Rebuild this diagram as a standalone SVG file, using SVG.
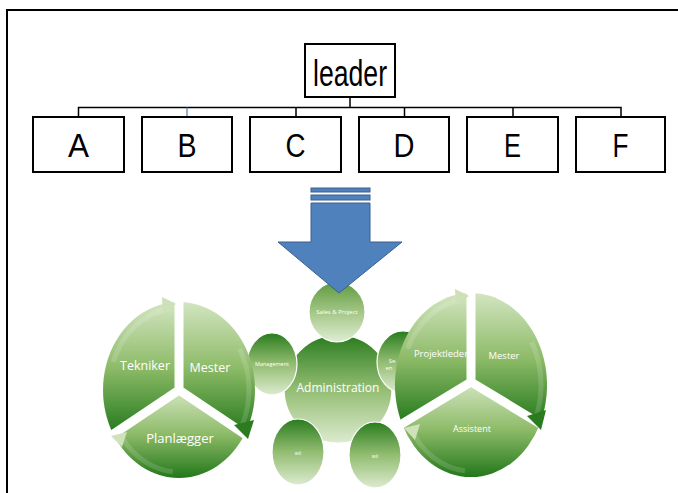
<svg xmlns="http://www.w3.org/2000/svg" width="678" height="493" viewBox="0 0 678 493">
  <defs>
    <linearGradient id="segGrad" x1="0" y1="0" x2="0" y2="1">
      <stop offset="0" stop-color="#d3e5c1"/>
      <stop offset="0.5" stop-color="#8dbb68"/>
      <stop offset="1" stop-color="#23781a"/>
    </linearGradient>
    <linearGradient id="ballGrad" x1="0" y1="0" x2="0" y2="1">
      <stop offset="0" stop-color="#2a7c1e"/>
      <stop offset="0.5" stop-color="#93bd72"/>
      <stop offset="1" stop-color="#dcebcf"/>
    </linearGradient>
    <linearGradient id="ballGradSoft" x1="0" y1="0" x2="0" y2="1">
      <stop offset="0" stop-color="#5e9a3e"/>
      <stop offset="0.5" stop-color="#a3c786"/>
      <stop offset="1" stop-color="#e0edd4"/>
    </linearGradient>
    <style>
      .frame { fill: none; stroke: #000; stroke-width: 2; }
      .box { fill: #fff; stroke: #000; stroke-width: 2; }
      .wire { fill: none; stroke: #000; stroke-width: 1.5; }
      .lbl { font-family: "Liberation Sans", Arial, sans-serif; fill: #000; text-anchor: middle; }
      .seg { fill: url(#segGrad); }
      .gap { stroke: #fff; stroke-width: 9; fill: none; }
      .band { fill: none; stroke: #fff; stroke-opacity: 0.14; stroke-width: 5; }
      .ball { fill: url(#ballGrad); stroke: #fff; stroke-width: 1.2; }
      .ballSoft { fill: url(#ballGradSoft); stroke: #fff; stroke-width: 1.2; }
      .wt { font-family: "Open Sans", "Liberation Sans", sans-serif; fill: #fff; text-anchor: middle; }
      .arrow { fill: #4f81bd; stroke: #3a6190; stroke-width: 1; }
    </style>
  </defs>

  <rect width="678" height="493" fill="#fff"/>

  <!-- page frame: top and left edges -->
  <path class="frame" d="M7,493 V10 H678"/>

  <!-- org chart connectors -->
  <g id="connectors">
    <path class="wire" d="M350,97 V107.5"/>
    <path class="wire" d="M78.5,117 V107.5 H621 V117"/>
    <path class="wire" d="M296,107.5 V117 M404.5,107.5 V117 M513,107.5 V117"/>
    <path fill="none" stroke="#4a7ab0" stroke-width="1.2" d="M187,107.5 V117"/>
  </g>

  <!-- org chart nodes -->
  <g id="leader">
    <rect class="box" x="305" y="44" width="90" height="53"/>
    <text class="lbl" x="350" y="86" font-size="37" textLength="74" lengthAdjust="spacingAndGlyphs">leader</text>
  </g>
  <g id="A"><rect class="box" x="33" y="117" width="91" height="55"/><text class="lbl" x="78.5" y="157" font-size="34" textLength="21" lengthAdjust="spacingAndGlyphs">A</text></g>
  <g id="B"><rect class="box" x="142" y="117" width="90" height="55"/><text class="lbl" x="187" y="157" font-size="34" textLength="19" lengthAdjust="spacingAndGlyphs">B</text></g>
  <g id="C"><rect class="box" x="250" y="117" width="91" height="55"/><text class="lbl" x="295.5" y="157" font-size="34" textLength="20" lengthAdjust="spacingAndGlyphs">C</text></g>
  <g id="D"><rect class="box" x="359" y="117" width="90" height="55"/><text class="lbl" x="404" y="157" font-size="34" textLength="21" lengthAdjust="spacingAndGlyphs">D</text></g>
  <g id="E"><rect class="box" x="467" y="117" width="91" height="55"/><text class="lbl" x="512.5" y="157" font-size="34" textLength="17" lengthAdjust="spacingAndGlyphs">E</text></g>
  <g id="F"><rect class="box" x="576" y="117" width="89" height="55"/><text class="lbl" x="620.5" y="157" font-size="34" textLength="16" lengthAdjust="spacingAndGlyphs">F</text></g>

  <!-- central cluster of departments -->
  <g id="administration">
    <circle class="ball" cx="338" cy="389" r="54"/>
    <text class="wt" x="338" y="392" font-size="12">Administration</text>
  </g>
  <g id="sales-project">
    <ellipse class="ballSoft" cx="337" cy="312" rx="28" ry="30"/>
    <text class="wt" x="337" y="314" font-size="6">Sales &amp; Project</text>
  </g>
  <g id="management">
    <ellipse class="ball" cx="272" cy="364" rx="25" ry="31"/>
    <text class="wt" x="272" y="366" font-size="5.5">Management</text>
  </g>
  <g id="service">
    <ellipse class="ball" cx="403" cy="362" rx="26" ry="31"/>
    <text class="wt" x="392" y="363" font-size="6" text-anchor="start">Se</text>
    <text class="wt" x="389" y="370" font-size="6" text-anchor="start">en</text>
  </g>
  <g id="wii-left">
    <ellipse class="ball" cx="298" cy="452" rx="26" ry="33"/>
    <text class="wt" x="298" y="455" font-size="5">wii</text>
  </g>
  <g id="wii-right">
    <ellipse class="ball" cx="375" cy="455" rx="26" ry="33"/>
    <text class="wt" x="375" y="458" font-size="5">wii</text>
  </g>

  <!-- left cycle: Tekniker / Mester / Planlægger -->
  <g id="cycle-left">
    <path class="seg" d="M179,390 L113.2,434 A76,88 0 0 1 179,302 Z"/>
    <path class="seg" d="M179,390 L179,302 A76,88 0 0 1 244.8,434 Z"/>
    <path class="seg" d="M179,390 L244.8,434 A76,88 0 0 1 113.2,434 Z"/>
    <path class="band" d="M113.2,362 A70,82 0 0 1 169.3,308.8"/>
    <path class="band" d="M239.6,349 A70,82 0 0 1 242.4,424.7"/>
    <path class="band" d="M172.9,471.7 A70,82 0 0 1 121.7,437"/>
    <path class="gap" d="M179,390 V290 M179,390 L252,439 M179,390 L106,439"/>
    <polygon points="162,297 176,304 163,313" fill="#cde0b8"/>
    <polygon points="234,425 254,420 248,439" fill="#2a7c1f"/>
    <polygon points="111,436 127,432 122,447" fill="#cfe2bb"/>
    <text class="wt" x="145" y="370" font-size="12.5">Tekniker</text>
    <text class="wt" x="210" y="372" font-size="12.5">Mester</text>
    <text class="wt" x="180" y="443" font-size="13">Planlægger</text>
  </g>

  <!-- right cycle: Projektleder / Mester / Assistent -->
  <g id="cycle-right">
    <path class="seg" d="M471,382 L402.1,423.9 A76,92 0 0 1 471,293 Z"/>
    <path class="seg" d="M471,382 L471,293 A76,92 0 0 1 539.9,423.9 Z"/>
    <path class="seg" d="M471,382 L539.9,423.9 A76,92 0 0 1 402.1,423.9 Z"/>
    <path class="band" d="M407.6,348.6 A70,86 0 0 1 461.3,299.8"/>
    <path class="band" d="M531.6,342 A70,86 0 0 1 536.8,414.4"/>
    <path class="band" d="M464.9,470.7 A70,86 0 0 1 410.4,428"/>
    <path class="gap" d="M471,382 V285 M471,382 L547,428 M471,382 L400,425"/>
    <polygon points="455,289 469,296 456,305" fill="#cde0b8"/>
    <polygon points="527,416 546,410 541,430" fill="#2a7c1f"/>
    <polygon points="404,428 420,424 415,440" fill="#cfe2bb"/>
    <text class="wt" x="441" y="357" font-size="9.5">Projektleder</text>
    <text class="wt" x="504" y="359" font-size="9.5">Mester</text>
    <text class="wt" x="472" y="432" font-size="9">Assistent</text>
  </g>

  <!-- block arrow pointing down into the cluster -->
  <g id="arrow">
    <rect class="arrow" x="311" y="188" width="59" height="4"/>
    <rect class="arrow" x="311" y="195" width="59" height="5"/>
    <path class="arrow" d="M311,203 H370 V242 H402 L339,293 L278,242 H311 Z"/>
  </g>
</svg>
